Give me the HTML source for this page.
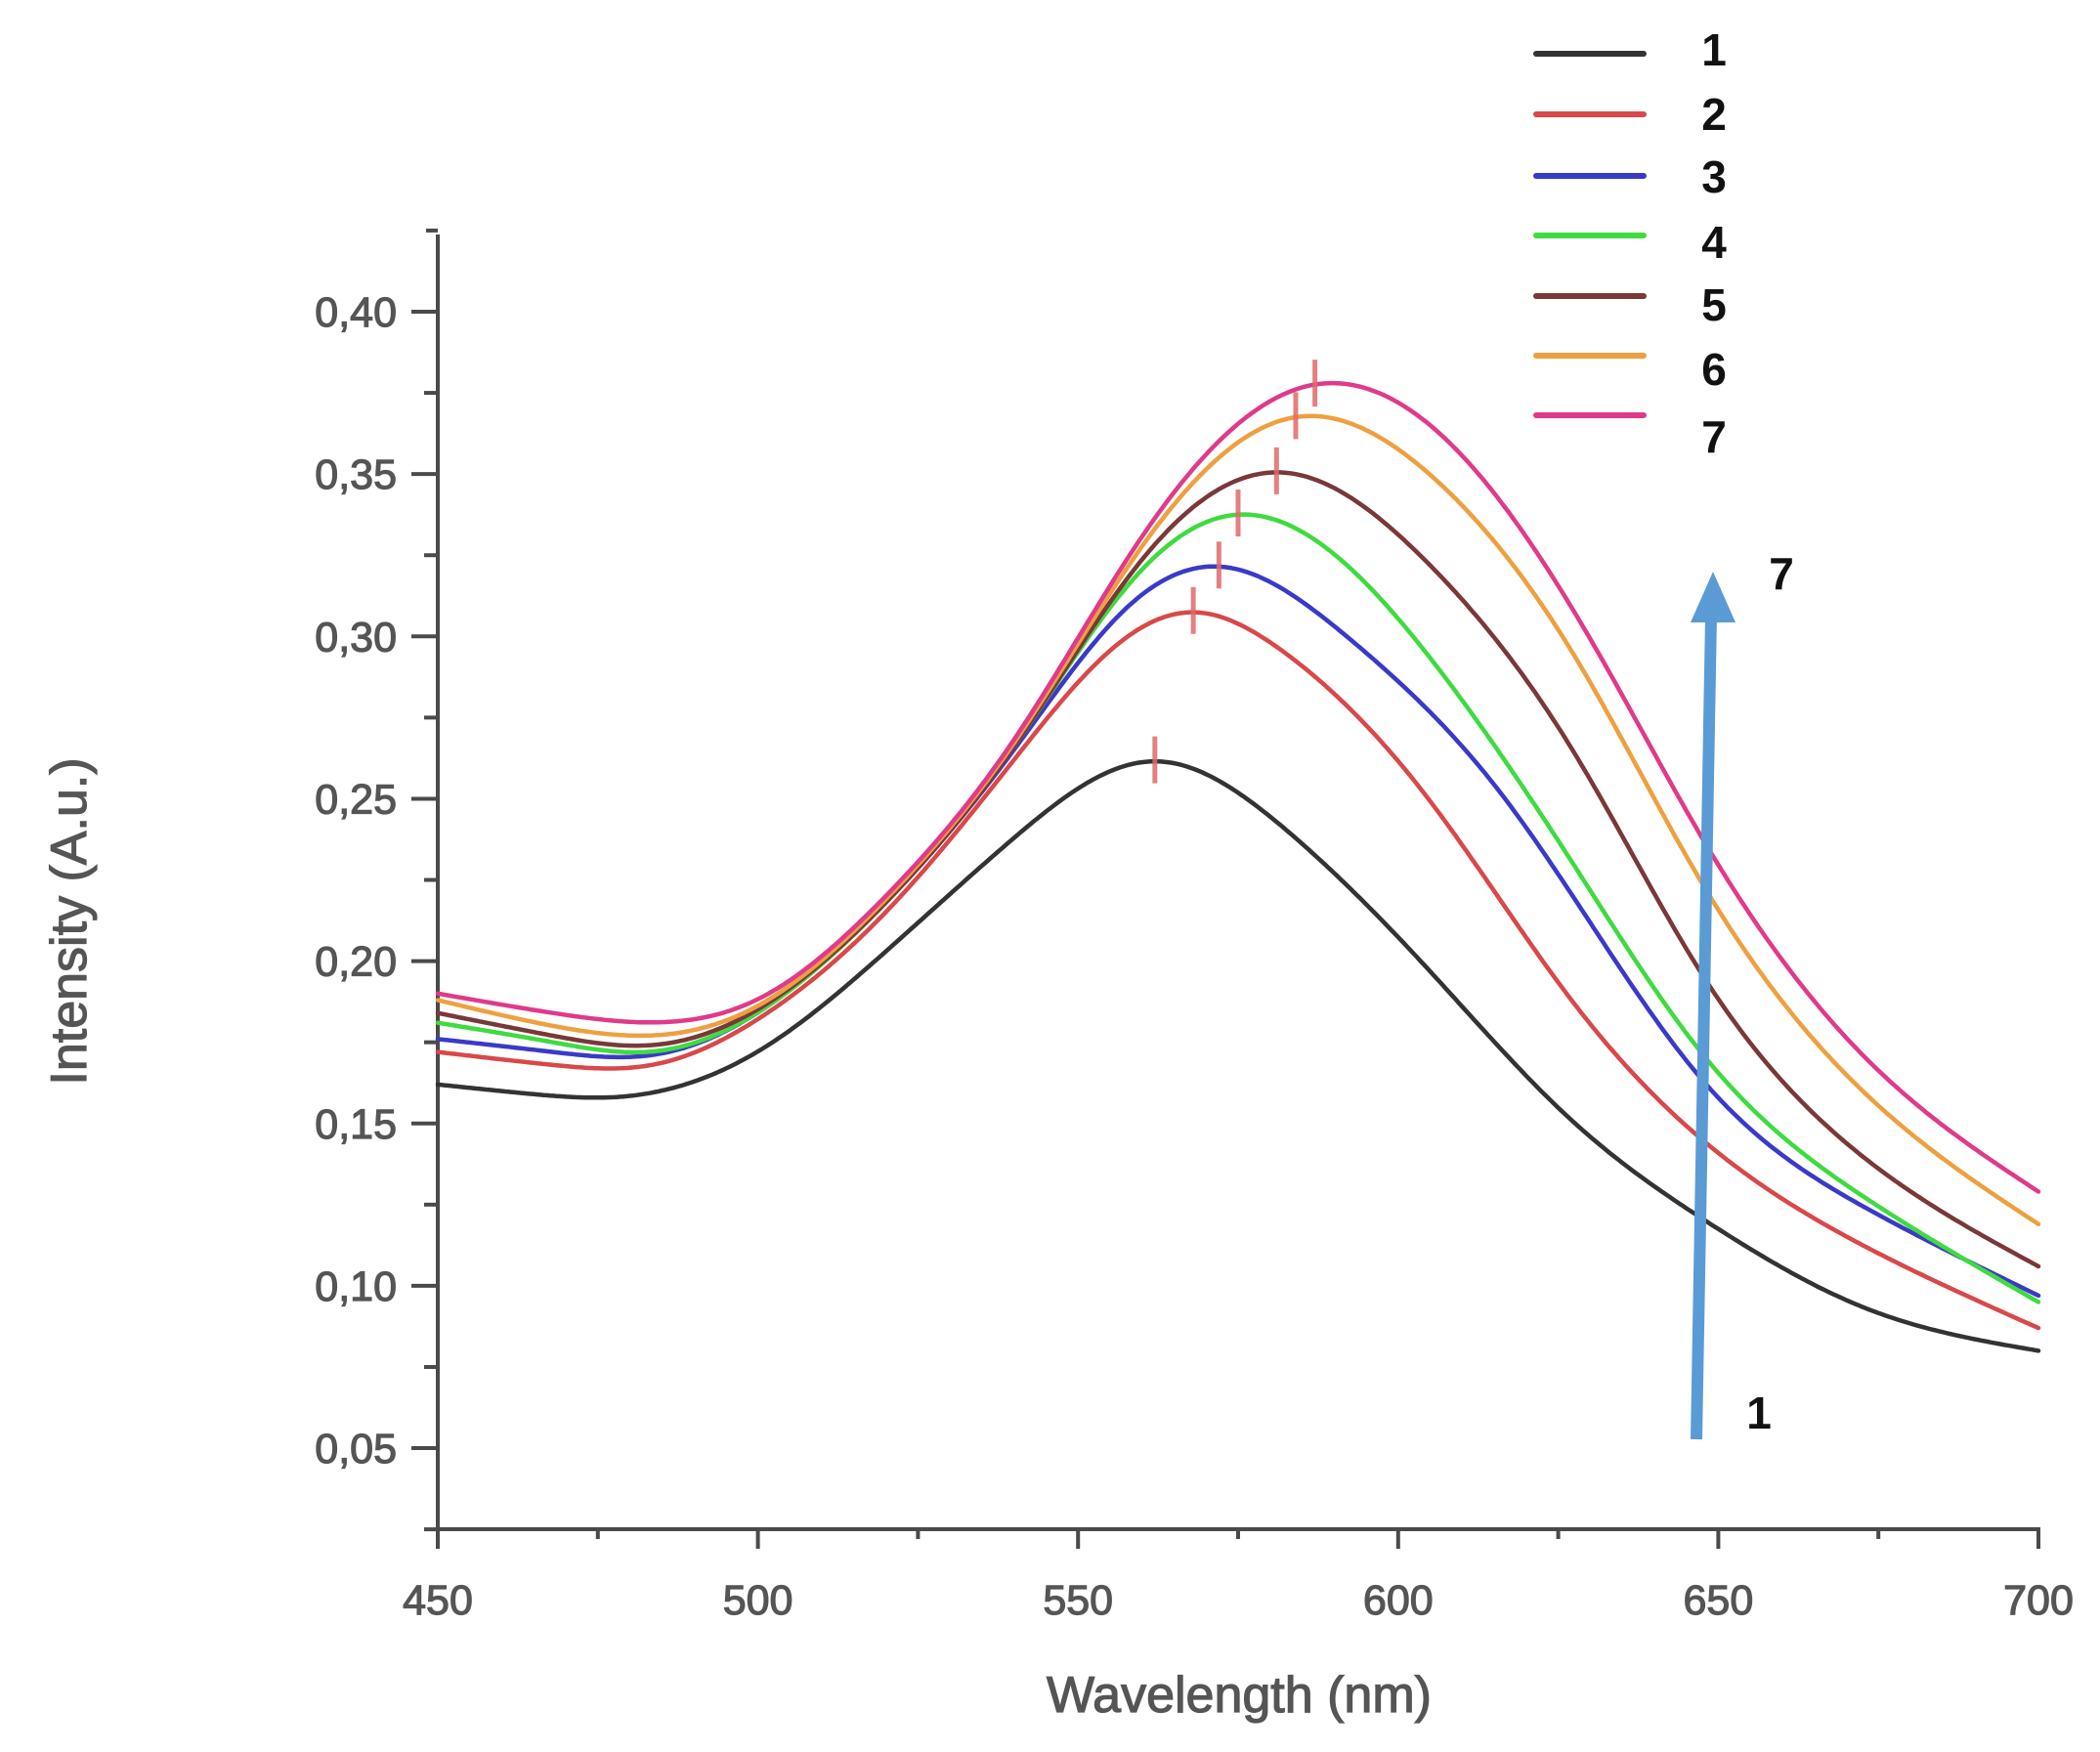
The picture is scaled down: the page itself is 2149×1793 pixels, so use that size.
<!DOCTYPE html>
<html><head><meta charset="utf-8">
<style>
html,body{margin:0;padding:0;background:#fff;}
svg{display:block;}
</style></head>
<body>
<svg id="s" width="2149" height="1793" viewBox="0 0 2149 1793" xmlns="http://www.w3.org/2000/svg">
<rect width="2149" height="1793" fill="#fff"/>
<g id="axes" stroke="#4a4a4a" stroke-width="4" fill="none"></g>
<g id="labels" font-family="Liberation Sans, sans-serif" fill="#555" stroke="#555" stroke-width="1.2" font-size="43"></g>
<g id="curves" fill="none" stroke-width="4.5" stroke-linecap="round" stroke-linejoin="round"></g>
<g id="marks" stroke="#e06a6a" stroke-width="5" opacity="0.85"></g>
<text x="1268" y="1752" text-anchor="middle" font-family="Liberation Sans, sans-serif" font-size="52" fill="#555" stroke="#555" stroke-width="1.2">Wavelength (nm)</text>
<text transform="translate(88,943) rotate(-90)" text-anchor="middle" font-family="Liberation Sans, sans-serif" font-size="52" fill="#555" stroke="#555" stroke-width="1.2">Intensity (A.u.)</text>
<g stroke-width="6" stroke-linecap="round">
<line x1="1572" y1="55" x2="1682" y2="55" stroke="#333"/>
<line x1="1572" y1="117" x2="1682" y2="117" stroke="#d9484a"/>
<line x1="1572" y1="180" x2="1682" y2="180" stroke="#3a3ac8"/>
<line x1="1572" y1="241" x2="1682" y2="241" stroke="#3fdb3f"/>
<line x1="1572" y1="303" x2="1682" y2="303" stroke="#7a3838"/>
<line x1="1572" y1="364" x2="1682" y2="364" stroke="#eea040"/>
<line x1="1572" y1="425" x2="1682" y2="425" stroke="#e03a8a"/>
</g>
<g font-family="Liberation Sans, sans-serif" font-weight="bold" font-size="46" fill="#111" text-anchor="middle">
<text x="1754" y="67">1</text>
<text x="1754" y="133">2</text>
<text x="1754" y="197">3</text>
<text x="1754" y="264">4</text>
<text x="1754" y="328">5</text>
<text x="1754" y="394">6</text>
<text x="1754" y="463">7</text>
<text x="1823" y="603">7</text>
<text x="1800" y="1462">1</text>
</g>
<line x1="1736" y1="1473" x2="1751" y2="630" stroke="#5b9bd5" stroke-width="12"/>
<polygon points="1753,585 1730,637 1776,637" fill="#5b9bd5"/>
</svg>
<script>
var NS="http://www.w3.org/2000/svg";
function X(w){return 448+(w-450)*6.552;}
function Y(v){return 319+(0.40-v)*3323;}
function el(p,t,a,txt){var e=document.createElementNS(NS,t);for(var k in a)e.setAttribute(k,a[k]);if(txt)e.textContent=txt;document.getElementById(p).appendChild(e);}
el("axes","line",{x1:448,y1:240,x2:448,y2:1567});
el("axes","line",{x1:446,y1:1565,x2:2088,y2:1565});
for(var i=0;i<16;i++){var v=0.025+i*0.025;var y=Y(v);var maj=(i%2==1);
 el("axes","line",{x1:maj?421:434,y1:y,x2:448,y2:y});
 if(maj) el("labels","text",{x:406,y:y+15,"text-anchor":"end"},v.toFixed(2).replace(".",","));}
el("axes","line",{x1:436,y1:Y(0.425),x2:448,y2:Y(0.425)});
for(var w=450;w<=700;w+=25){var x=X(w);var maj=(w%50==0);
 el("axes","line",{x1:x,y1:1565,x2:x,y2:maj?1585:1575});
 if(maj) el("labels","text",{x:x,y:1652,"text-anchor":"middle"},String(w));}
var C=[
["#333",[[450,.162],[465,.159],[478,.158],[500,.172],[520,.203],[540,.238],[562,.262],[581,.243],[604,.199],[627,.151],[648,.120],[673,.093],[700,.080]]],
["#d9484a",[[450,.172],[468,.168],[484,.168],[500,.182],[520,.215],[540,.262],[555,.296],[568,.308],[581,.297],[604,.252],[627,.188],[648,.144],[673,.112],[700,.087]]],
["#3a3ac8",[[450,.176],[468,.172],[484,.171],[500,.184],[520,.218],[540,.265],[558,.310],[572,.322],[592,.300],[616,.252],[648,.162],[673,.124],[700,.097]]],
["#3fdb3f",[[450,.181],[468,.175],[484,.172],[500,.184],[520,.218],[540,.266],[560,.321],[575,.338],[604,.296],[627,.231],[648,.170],[673,.127],[700,.095]]],
["#7a3838",[[450,.184],[468,.177],[484,.174],[500,.185],[520,.218],[540,.266],[560,.324],[581,.351],[604,.324],[627,.266],[648,.194],[673,.139],[700,.106]]],
["#eea040",[[450,.188],[468,.180],[484,.177],[500,.186],[520,.219],[540,.267],[560,.328],[584,.368],[605,.350],[627,.296],[648,.222],[673,.159],[700,.119]]],
["#e03a8a",[[450,.190],[468,.184],[484,.181],[500,.188],[520,.220],[540,.268],[560,.331],[587,.378],[608,.360],[633,.289],[648,.236],[673,.170],[700,.129]]]];
function spline(pts){var n=pts.length,x=pts.map(p=>p[0]),y=pts.map(p=>p[1]);
 var h=[],a=[],l=[1],mu=[0],z=[0],c=new Array(n).fill(0),b=[],d=[];
 for(var i=0;i<n-1;i++)h[i]=x[i+1]-x[i];
 for(var i=1;i<n-1;i++)a[i]=3/h[i]*(y[i+1]-y[i])-3/h[i-1]*(y[i]-y[i-1]);
 for(var i=1;i<n-1;i++){l[i]=2*(x[i+1]-x[i-1])-h[i-1]*mu[i-1];mu[i]=h[i]/l[i];z[i]=(a[i]-h[i-1]*z[i-1])/l[i];}
 l[n-1]=1;z[n-1]=0;c[n-1]=0;
 for(var j=n-2;j>=0;j--){c[j]=z[j]-mu[j]*c[j+1];b[j]=(y[j+1]-y[j])/h[j]-h[j]*(c[j+1]+2*c[j])/3;d[j]=(c[j+1]-c[j])/(3*h[j]);}
 return function(t){var j=0;while(j<n-2&&t>x[j+1])j++;var dx=t-x[j];return y[j]+b[j]*dx+c[j]*dx*dx+d[j]*dx*dx*dx;};}
C.forEach(function(c){var f=spline(c[1]);var raw=[],ws=[];
 for(var w=444;w<=706;w+=0.5){ws.push(w);raw.push(f(w));}
 var d="",first=true;
 for(var i=0;i<ws.length;i++){if(ws[i]<450||ws[i]>700)continue;
  var s=0,t=0;for(var k=-12;k<=12;k++){var j=i+k;var g=Math.exp(-0.5*(k*0.5/3)*(k*0.5/3));s+=g*raw[j];t+=g;}
  d+=(first?"M":" L")+X(ws[i]).toFixed(1)+","+Y(s/t).toFixed(1);first=false;}
 el("curves","path",{d:d,stroke:c[0]});});
[[562,.262],[568,.308],[572,.322],[575,.338],[581,.351],[584,.368],[587,.378]].forEach(function(m){
 el("marks","line",{x1:X(m[0]),y1:Y(m[1])-24,x2:X(m[0]),y2:Y(m[1])+24});});
</script>
</body></html>
